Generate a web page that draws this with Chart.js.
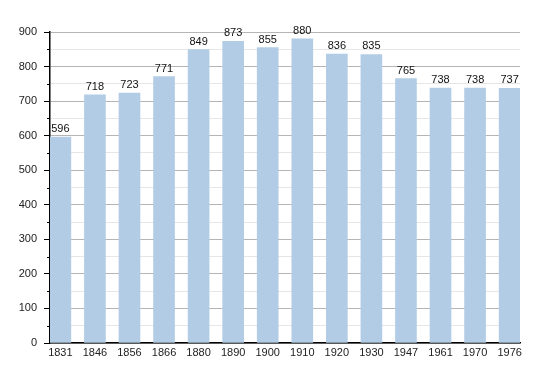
<!DOCTYPE html>
<html>
<head>
<meta charset="utf-8">
<script src="https://cdn.jsdelivr.net/npm/chart.js@4"></script>
<style>
  html, body { margin: 0; padding: 0; background: #fff; }
  #wrap { width: 550px; height: 373px; }
</style>
</head>
<body>
<div id="wrap"><canvas id="myChart" width="550" height="373"></canvas></div>
<script>
const years = ['1831', '1846', '1856', '1866', '1880', '1890', '1900', '1910', '1920', '1930', '1947', '1961', '1970', '1976'];
const population = [596, 718, 723, 771, 849, 873, 855, 880, 836, 835, 765, 738, 738, 737];
const yTicks = [0, 100, 200, 300, 400, 500, 600, 700, 800, 900];

Chart.defaults.font.family = '"Liberation Sans", Arial, sans-serif';
Chart.defaults.font.size = 11;
Chart.defaults.color = '#222';

// value above each bar
const valueLabels = {
    id: 'valueLabels',
    afterDatasetsDraw(chart) {
        const c = chart.ctx;
        const meta = chart.getDatasetMeta(0);
        c.save();
        c.font = '11px "Liberation Sans", Arial, sans-serif';
        c.fillStyle = '#111';
        c.textAlign = 'center';
        c.textBaseline = 'alphabetic';
        meta.data.forEach((bar, i) => {
            c.fillText(population[i], bar.x, bar.y - 5);
        });
        c.restore();
    }
};

// short minor ticks on the y axis
const minorTicks = {
    id: 'minorTicks',
    afterDraw(chart) {
        const y = chart.scales.y;
        const c = chart.ctx;
        c.save();
        c.strokeStyle = '#000';
        c.lineWidth = 1;
        y.ticks.forEach(t => {
            if (t.value % 100 !== 0) {
                const py = Math.round(y.getPixelForValue(t.value)) + 0.5;
                c.beginPath();
                c.moveTo(y.right - 3, py);
                c.lineTo(y.right, py);
                c.stroke();
            }
        });
        c.restore();
    }
};

const ctx = document.getElementById('myChart').getContext('2d');

const myChart = new Chart(ctx, {
    type: 'bar',
    data: {
        datasets: [{
            data: population.map((v, i) => ({ x: i, y: v })),
            backgroundColor: '#b3cce5',
            borderWidth: 0,
            barThickness: 21
        }]
    },
    options: {
        responsive: false,
        animation: false,
        layout: { padding: { top: 32, right: 30, left: 0, bottom: 0 } },
        plugins: {
            legend: { display: false },
            tooltip: { enabled: false }
        },
        scales: {
            x: {
                type: 'linear',
                offset: false,
                min: -0.3,
                max: 13.3,
                afterBuildTicks: (scale) => {
                    scale.ticks = years.map((_, i) => ({ value: i }));
                },
                afterFit: (scale) => { scale.height = 30; },
                grid: { display: false, drawTicks: false },
                border: { display: true, color: '#000', width: 1.5 },
                ticks: {
                    padding: 3,
                    maxRotation: 0,
                    autoSkip: false,
                    callback: (v) => years[v]
                }
            },
            y: {
                min: 0,
                max: 900,
                afterBuildTicks: (scale) => {
                    const t = [];
                    for (let v = 0; v <= 900; v += 50) t.push({ value: v });
                    scale.ticks = t;
                },
                afterFit: (scale) => { scale.width = 50; },
                border: { display: true, color: '#000', width: 1.5 },
                grid: {
                    tickLength: 6,
                    color: (c) => (c.tick && c.tick.value % 100 === 0) ? '#b5b5b5' : '#e6e6e6',
                    tickColor: (c) => (c.tick && c.tick.value % 100 === 0) ? '#000' : 'rgba(0,0,0,0)'
                },
                ticks: {
                    padding: 7,
                    callback: (v) => yTicks.includes(v) ? v : ''
                }
            }
        }
    },
    plugins: [valueLabels, minorTicks]
});
</script>
</body>
</html>
